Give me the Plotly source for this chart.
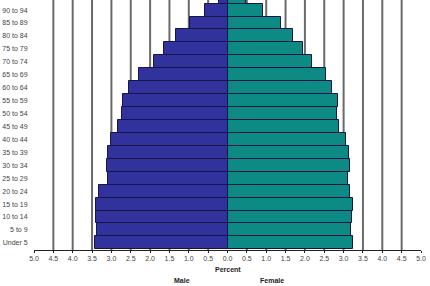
import plotly.graph_objects as go

age_groups = ["Under 5", "5 to 9", "10 to 14", "15 to 19", "20 to 24", "25 to 29",
              "30 to 34", "35 to 39", "40 to 44", "45 to 49", "50 to 54", "55 to 59",
              "60 to 64", "65 to 69", "70 to 74", "75 to 79", "80 to 84", "85 to 89",
              "90 to 94", "95 to 99"]
male_pct = [3.42, 3.37, 3.39, 3.40, 3.31, 3.09, 3.12, 3.09, 3.00, 2.82, 2.73, 2.71,
            2.55, 2.29, 1.91, 1.65, 1.33, 0.96, 0.57, 0.23]
female_pct = [3.25, 3.20, 3.21, 3.23, 3.16, 3.11, 3.17, 3.13, 3.06, 2.89, 2.82, 2.85,
              2.71, 2.54, 2.19, 1.96, 1.69, 1.37, 0.91, 0.48]
x_ticks = [-5.0, -4.5, -4.0, -3.5, -3.0, -2.5, -2.0, -1.5, -1.0, -0.5, 0.0,
           0.5, 1.0, 1.5, 2.0, 2.5, 3.0, 3.5, 4.0, 4.5, 5.0]
grid_vals = [-4.5, -4.0, -3.5, -3.0, -2.5, -2.0, -1.5, -1.0, -0.5,
             0.5, 1.0, 1.5, 2.0, 2.5, 3.0, 3.5, 4.0, 4.5]

ypos = list(range(len(age_groups)))

fig = go.Figure()
fig.add_trace(go.Bar(
    y=ypos, x=[-v for v in male_pct], orientation="h", name="Male",
    marker=dict(color="#32329c", line=dict(color="#15154a", width=1)),
))
fig.add_trace(go.Bar(
    y=ypos, x=female_pct, orientation="h", name="Female",
    marker=dict(color="#0d8a84", line=dict(color="#15154a", width=1)),
))

for g in grid_vals:
    fig.add_shape(type="line", xref="x", yref="paper", x0=g, x1=g, y0=0, y1=1,
                  line=dict(color="#6a6a6a", width=2), layer="below")

fig.update_layout(
    width=430, height=286,
    margin=dict(l=34, r=9, t=0, b=36),
    barmode="overlay", bargap=0,
    showlegend=False,
    plot_bgcolor="white", paper_bgcolor="white",
    font=dict(family="Liberation Sans, Arial, sans-serif", size=7, color="#444444"),
    xaxis=dict(
        range=[-5, 5], tickvals=x_ticks,
        ticktext=[f"{abs(v):.1f}" for v in x_ticks],
        showgrid=False, zeroline=False,
        showline=True, linecolor="#222222", linewidth=1,
        ticks="outside", ticklen=2, tickcolor="#222222",
        tickfont=dict(size=7, color="#444444"),
    ),
    yaxis=dict(
        range=[-0.55, 18.78], tickvals=ypos, ticktext=age_groups,
        showgrid=False, zeroline=False, showline=False,
        ticks="outside", ticklen=4, tickcolor="rgba(0,0,0,0)",
        tickfont=dict(size=7, color="#444444"),
    ),
    annotations=[
        dict(text="<b>Percent</b>", x=0.501, y=269, xref="paper", yref="paper", showarrow=False),
        dict(text="<b>Male</b>", x=0.383, y=280, xref="paper", yref="paper", showarrow=False),
        dict(text="<b>Female</b>", x=0.614, y=280, xref="paper", yref="paper", showarrow=False),
    ],
)

# convert annotation pixel y positions to paper coords
plot_h = 286 - 0 - 36
for a in fig.layout.annotations:
    a.y = (286 - 36 - a.y) / plot_h
    a.yanchor = "middle"
    a.font = dict(size=7, color="#222222")

fig.write_html("out.html")
